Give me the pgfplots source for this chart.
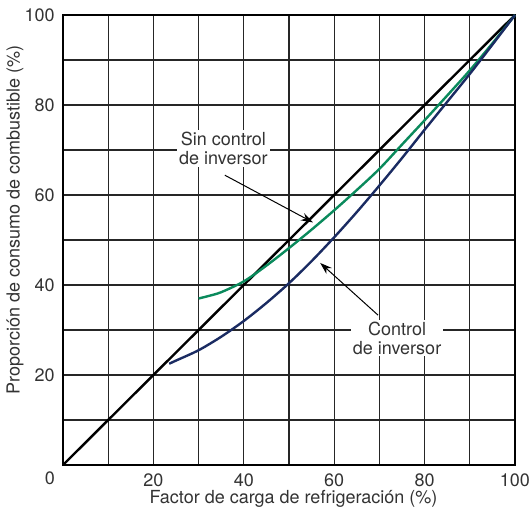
\documentclass[border=0pt]{standalone}
\usepackage{fontspec}
\setmainfont{TeX Gyre Heros}
\usepackage{pgfplots}
\pgfplotsset{compat=1.18}
\usetikzlibrary{arrows.meta}
\definecolor{verde}{HTML}{0A8A5C}
\definecolor{marino}{HTML}{1A2B62}
\definecolor{texto}{HTML}{333333}

\begin{document}
\fontsize{9}{11}\selectfont
\begin{tikzpicture}
\begin{axis}[
 scale only axis,width=226pt,height=225pt,
 xmin=0,xmax=100,ymin=0,ymax=100,
 xtick={0,20,...,100},ytick={0,20,...,100},
 minor xtick={10,30,...,90},minor ytick={10,30,...,90},
 xticklabels={,20,40,60,80,100},yticklabels={,20,40,60,80,100},
 grid=both,major grid style={draw=black!85,line width=0.6pt},
 minor grid style={draw=black!85,line width=0.6pt},
 axis line style={line width=1.2pt},
 major tick length=0pt,minor tick length=0pt,
 tick label style={font=\fontsize{9}{11}\selectfont,text=texto},
 /pgf/number format/assume math mode=true,
 xticklabel style={yshift=-1pt},
 yticklabel style={xshift=-1pt},
 xlabel={Factor de carga de refrigeración (\%)},
 ylabel={Proporción de consumo de combustible (\%)},
 label style={font=\fontsize{9}{11}\selectfont,text=texto},
 xlabel style={at={(axis description cs:0.51,0)},anchor=center,yshift=-17pt},
 ylabel style={at={(axis description cs:-0.106,0.545)},anchor=center},
 clip=false,
 ]
\addplot[line width=1.2pt,color=black] coordinates {(0,0) (100,100)};
\addplot[line width=1.2pt,color=verde,smooth] coordinates {
 (30,37) (32,37.5) (35,38.4) (40,40.8) (45,44.3) (50,48.2) (55,52.3) (60,56.6)
 (65,61.1) (70,65.8) (75,71.2) (80,76.6) (85,82.1) (90,87.7) (95,93.7) (100,100)};
\addplot[line width=1.2pt,color=marino,smooth] coordinates {
 (23.5,22.5) (25,23.2) (30,25.5) (35,28.5) (40,32) (45,36) (50,40.4)
 (55,45.3) (60,50.6) (65,56.2) (70,62.1) (75,68.2) (80,74.5) (85,80.7)
 (90,86.9) (95,93.4) (100,100)};
\node[text=texto] at (axis cs:-2.9,-2.9) {0};
\node[fill=white,text=texto,align=center,inner sep=1pt,font=\fontsize{9}{9.5}\selectfont]
 at (axis cs:35.5,70.3) {Sin control\\de inversor};
\draw[-{Stealth[length=6pt,width=4pt]},line width=0.5pt] (axis cs:35.8,64.4) -- (axis cs:55.3,53.9);
\node[fill=white,text=texto,align=center,inner sep=1pt,font=\fontsize{9}{9.5}\selectfont]
 at (axis cs:73.9,28.2) {Control\\de inversor};
\draw[-{Stealth[length=6pt,width=4pt]},line width=0.5pt] (axis cs:69.7,33.3) -- (axis cs:56.9,44.9);
\coordinate (bl) at (axis cs:-13.94,-10.44);
\coordinate (tr) at (axis cs:103.1,103.33);
\end{axis}
\pgfresetboundingbox
\path (bl) rectangle (tr);
\end{tikzpicture}
\end{document}
